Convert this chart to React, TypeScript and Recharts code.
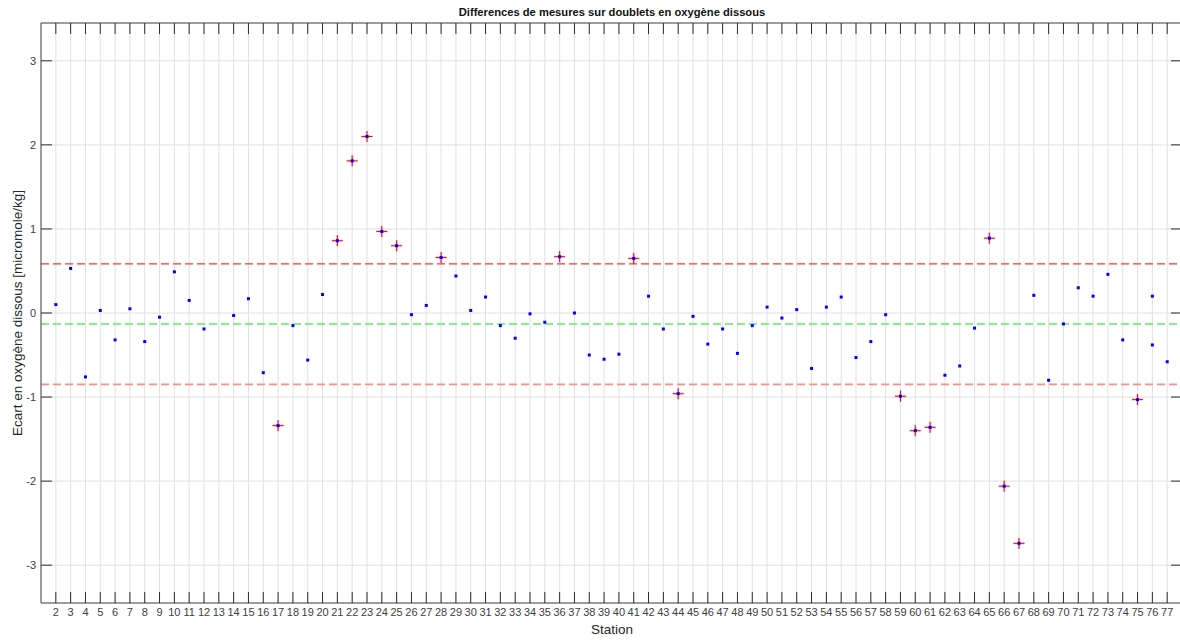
import React from 'react';
import { ScatterChart, Scatter, XAxis, YAxis, CartesianGrid, ReferenceLine } from 'recharts';

// stations (13 absente, 76 en double)
const STATIONS = [
  2, 3, 4, 5, 6, 7, 8, 9, 10, 11, 12, 14, 15, 16, 17, 18, 19, 20, 21, 22, 23, 24, 25, 26, 27, 28,
  29, 30, 31, 32, 33, 34, 35, 36, 37, 38, 39, 40, 41, 42, 43, 44, 45, 46, 47, 48, 49, 50, 51, 52,
  53, 54, 55, 56, 57, 58, 59, 60, 61, 62, 63, 64, 65, 66, 67, 68, 69, 70, 71, 72, 73, 74, 75, 76, 76, 77,
];
// ecart entre doublets [micromole/kg]
const ECART = [
  0.10, 0.53, -0.76, 0.03, -0.32, 0.05, -0.34, -0.05, 0.49, 0.15, -0.19, -0.03, 0.17, -0.71, -1.34, -0.15,
  -0.56, 0.22, 0.86, 1.81, 2.10, 0.97, 0.80, -0.02, 0.09, 0.66, 0.44, 0.03, 0.19, -0.15, -0.30, -0.01,
  -0.11, 0.67, 0.00, -0.50, -0.55, -0.49, 0.65, 0.20, -0.19, -0.96, -0.04, -0.37, -0.19, -0.48, -0.15,
  0.07, -0.06, 0.04, -0.66, 0.07, 0.19, -0.53, -0.34, -0.02, -0.99, -1.40, -1.36, -0.74, -0.63, -0.18,
  0.89, -2.06, -2.74, 0.21, -0.80, -0.13, 0.30, 0.20, 0.46, -0.32, -1.03, 0.20, -0.38, -0.58,
];
const MOYENNE = -0.13;
const LIMITE_HAUTE = 0.585;
const LIMITE_BASSE = -0.85;

const X_TICKS = Array.from({ length: 76 }, (_, i) => i + 2);
const Y_TICKS = [-3, -2, -1, 0, 1, 2, 3];

const points = STATIONS.map((s, i) => ({ x: s, y: ECART[i] }));
const horsLimites = points.filter((p) => p.y > LIMITE_HAUTE || p.y < LIMITE_BASSE);

const FONT = '"Liberation Sans", Arial, Helvetica, sans-serif';
const AXIS = '#4a4a4a';
const TICK = '#2b2b2b';
const tickStyle = { fontSize: 11, fill: '#404040', fontFamily: FONT };

const NoLabel = () => <g />;
const Dot = (p: any) => <rect x={p.cx - 1.5} y={p.cy - 1.5} width={3} height={3} fill="#0000ff" />;
const Cross = (p: any) => (
  <g>
    <line x1={p.cx - 5.5} x2={p.cx + 5.5} y1={p.cy} y2={p.cy} stroke="#ff5050" strokeWidth={2.6} strokeOpacity={0.2} />
    <line x1={p.cx} x2={p.cx} y1={p.cy - 5.5} y2={p.cy + 5.5} stroke="#ff5050" strokeWidth={2.6} strokeOpacity={0.2} />
    <line x1={p.cx - 5.5} x2={p.cx + 5.5} y1={p.cy} y2={p.cy} stroke="#ff0000" strokeWidth={1} />
    <line x1={p.cx} x2={p.cx} y1={p.cy - 5.5} y2={p.cy + 5.5} stroke="#ff0000" strokeWidth={1} />
  </g>
);

export default function App() {
  return (
    <div style={{ position: 'absolute', left: 0, top: 0, width: 1180, height: 641, overflow: 'hidden', background: '#fff', fontFamily: FONT }}>
      <div style={{ position: 'absolute', left: 362, width: 500, top: 6, textAlign: 'center', fontSize: 11.2, fontWeight: 700, color: '#111' }}>
        Differences de mesures sur doublets en oxygène dissous
      </div>
      <div style={{ position: 'absolute', left: 17, top: 313, width: 0, height: 0 }}>
        <div style={{ position: 'absolute', transform: 'translate(-50%, -50%) rotate(-90deg)', whiteSpace: 'nowrap', fontSize: 13.5, color: '#262626' }}>
          Ecart en oxygène dissous [micromole/kg]
        </div>
      </div>
      <div style={{ position: 'absolute', left: 512, width: 200, top: 622, textAlign: 'center', fontSize: 13.5, color: '#262626' }}>
        Station
      </div>
      <ScatterChart width={1186} height={641} margin={{ top: 23, right: 4, bottom: 0, left: 0 }}>
        <CartesianGrid xAxisId="b" yAxisId="l" stroke="#e0e0e0" strokeWidth={1} />
        <XAxis xAxisId="b" dataKey="x" type="number" domain={[1, 78]} allowDataOverflow ticks={X_TICKS} interval={0}
          height={38} tickLine={false} tickSize={4} tickMargin={1} axisLine={{ stroke: AXIS }} tick={tickStyle} />
        <XAxis xAxisId="bt" dataKey="x" type="number" domain={[1, 78]} allowDataOverflow ticks={X_TICKS} interval={0}
          mirror tick={NoLabel} tickSize={11} tickLine={{ stroke: TICK }} axisLine={false} />
        <XAxis xAxisId="t" orientation="top" dataKey="x" type="number" domain={[1, 78]} allowDataOverflow ticks={X_TICKS} interval={0}
          mirror tick={NoLabel} tickSize={11} tickLine={{ stroke: TICK }} axisLine={{ stroke: AXIS }} />
        <YAxis yAxisId="l" dataKey="y" type="number" domain={[-3.45, 3.45]} allowDataOverflow ticks={Y_TICKS} interval={0}
          width={41} tickLine={false} tickSize={3} tickMargin={2} axisLine={{ stroke: AXIS }} tick={tickStyle} />
        <YAxis yAxisId="lt" dataKey="y" type="number" domain={[-3.45, 3.45]} allowDataOverflow ticks={Y_TICKS} interval={0}
          mirror tick={NoLabel} tickSize={11} tickLine={{ stroke: TICK }} axisLine={false} />
        <YAxis yAxisId="r" orientation="right" dataKey="y" type="number" domain={[-3.45, 3.45]} allowDataOverflow ticks={Y_TICKS} interval={0}
          mirror tick={NoLabel} tickSize={11} tickLine={{ stroke: TICK }} axisLine={{ stroke: AXIS }} />
        <ReferenceLine xAxisId="b" yAxisId="l" y={LIMITE_HAUTE} stroke="#ff3030" strokeWidth={1.2} strokeDasharray="8 4" />
        <ReferenceLine xAxisId="b" yAxisId="l" y={MOYENNE} stroke="#5cf05c" strokeWidth={1.6} strokeDasharray="8 4" />
        <ReferenceLine xAxisId="b" yAxisId="l" y={LIMITE_BASSE} stroke="#ff8a8a" strokeWidth={1.8} strokeDasharray="8 4" />
        <Scatter xAxisId="b" yAxisId="l" data={horsLimites} shape={Cross} isAnimationActive={false} />
        <Scatter xAxisId="b" yAxisId="l" data={points} shape={Dot} isAnimationActive={false} />
      </ScatterChart>
    </div>
  );
}
